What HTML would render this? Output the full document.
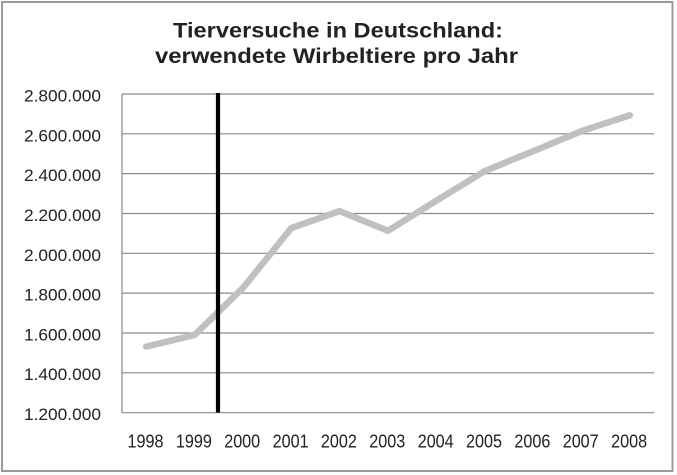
<!DOCTYPE html>
<html>
<head>
<meta charset="utf-8">
<style>
  html,body{margin:0;padding:0;background:#fff;}
  svg{display:block;}
  text{font-family:"Liberation Sans", Arial, sans-serif;fill:#222;}
</style>
</head>
<body>
<svg width="677" height="475" viewBox="0 0 677 475" xmlns="http://www.w3.org/2000/svg">
  <rect x="0" y="0" width="677" height="475" fill="#fff"/>
  <!-- outer border -->
  <rect x="2" y="2" width="670.5" height="469" fill="none" stroke="#9a9a9a" stroke-width="2"/>

  <!-- title -->
  <text x="338" y="37.3" text-anchor="middle" font-size="21.7" font-weight="bold" textLength="330" lengthAdjust="spacingAndGlyphs">Tierversuche in Deutschland:</text>
  <text x="336.5" y="63" text-anchor="middle" font-size="21.7" font-weight="bold" textLength="363" lengthAdjust="spacingAndGlyphs">verwendete Wirbeltiere pro Jahr</text>

  <!-- gridlines -->
  <g stroke="#8a8a8a" stroke-width="1.2">
    <line x1="122" y1="94" x2="654" y2="94"/>
    <line x1="122" y1="133.8" x2="654" y2="133.8"/>
    <line x1="122" y1="173.6" x2="654" y2="173.6"/>
    <line x1="122" y1="213.5" x2="654" y2="213.5"/>
    <line x1="122" y1="253.3" x2="654" y2="253.3"/>
    <line x1="122" y1="293.1" x2="654" y2="293.1"/>
    <line x1="122" y1="333" x2="654" y2="333"/>
    <line x1="122" y1="372.8" x2="654" y2="372.8"/>
    <line x1="122" y1="412.7" x2="654" y2="412.7"/>
    <line x1="122" y1="94" x2="122" y2="412.7"/>
  </g>

  <!-- y labels -->
  <g font-size="16.3" text-anchor="end">
    <text x="101" y="101.5" textLength="77" lengthAdjust="spacingAndGlyphs">2.800.000</text>
    <text x="101" y="141.3" textLength="77" lengthAdjust="spacingAndGlyphs">2.600.000</text>
    <text x="101" y="181.1" textLength="77" lengthAdjust="spacingAndGlyphs">2.400.000</text>
    <text x="101" y="221" textLength="77" lengthAdjust="spacingAndGlyphs">2.200.000</text>
    <text x="101" y="260.8" textLength="77" lengthAdjust="spacingAndGlyphs">2.000.000</text>
    <text x="101" y="300.6" textLength="77" lengthAdjust="spacingAndGlyphs">1.800.000</text>
    <text x="101" y="340.3" textLength="77" lengthAdjust="spacingAndGlyphs">1.600.000</text>
    <text x="101" y="380.2" textLength="77" lengthAdjust="spacingAndGlyphs">1.400.000</text>
    <text x="101" y="420.1" textLength="77" lengthAdjust="spacingAndGlyphs">1.200.000</text>
  </g>

  <!-- x labels -->
  <g font-size="18.7" text-anchor="middle">
    <text x="145.5" y="447.7" textLength="36" lengthAdjust="spacingAndGlyphs">1998</text>
    <text x="193.9" y="447.7" textLength="36" lengthAdjust="spacingAndGlyphs">1999</text>
    <text x="242.2" y="447.7" textLength="36" lengthAdjust="spacingAndGlyphs">2000</text>
    <text x="290.6" y="447.7" textLength="36" lengthAdjust="spacingAndGlyphs">2001</text>
    <text x="338.9" y="447.7" textLength="36" lengthAdjust="spacingAndGlyphs">2002</text>
    <text x="387.3" y="447.7" textLength="36" lengthAdjust="spacingAndGlyphs">2003</text>
    <text x="435.7" y="447.7" textLength="36" lengthAdjust="spacingAndGlyphs">2004</text>
    <text x="484" y="447.7" textLength="36" lengthAdjust="spacingAndGlyphs">2005</text>
    <text x="532.4" y="447.7" textLength="36" lengthAdjust="spacingAndGlyphs">2006</text>
    <text x="580.7" y="447.7" textLength="36" lengthAdjust="spacingAndGlyphs">2007</text>
    <text x="629.1" y="447.7" textLength="36" lengthAdjust="spacingAndGlyphs">2008</text>
  </g>

  <!-- series -->
  <polyline fill="none" stroke="#c0c0c0" stroke-width="6.5" stroke-linejoin="round" stroke-linecap="round"
    points="146.2,346.6 194.6,335 242.9,288 291.3,228.1 339.6,211.1 388,230.8 436.4,200.6 484.7,171.1 533.1,151.2 581.4,131.1 629.8,115.3"/>

  <!-- black vertical marker -->
  <line x1="218" y1="93" x2="218" y2="412.5" stroke="#000" stroke-width="4.2"/>
</svg>
</body>
</html>
